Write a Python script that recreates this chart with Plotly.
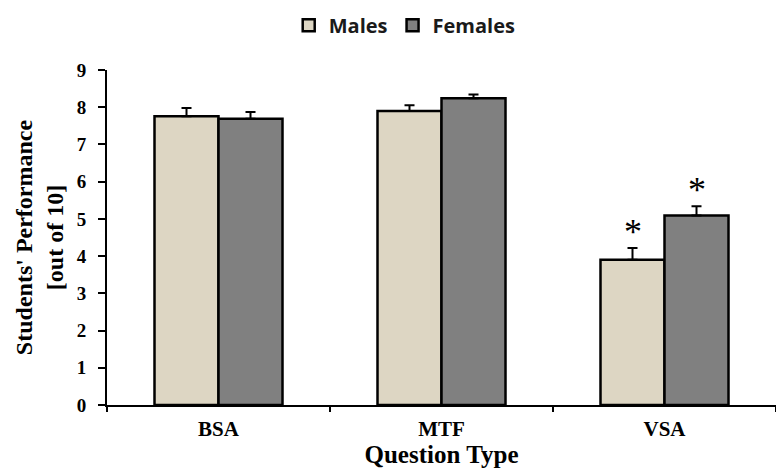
import plotly.graph_objects as go

categories = ["BSA", "MTF", "VSA"]
males = [7.76, 7.90, 3.90]
females = [7.69, 8.24, 5.09]
males_err = [0.22, 0.15, 0.32]
females_err = [0.18, 0.10, 0.25]
# significance markers per category (male, female)
males_sig = [False, False, True]
females_sig = [False, False, True]
y_ticks = list(range(0, 10))

male_color = "#DDD6C3"
female_color = "#808080"
serif = "Liberation Serif"

fig = go.Figure()
fig.add_trace(go.Bar(
    name="Males", x=categories, y=males,
    marker=dict(color=male_color, line=dict(color="black", width=2.5)),
    error_y=dict(type="data", array=males_err, symmetric=False,
                 arrayminus=[0] * len(males), color="black", thickness=2, width=5),
))
fig.add_trace(go.Bar(
    name="Females", x=categories, y=females,
    marker=dict(color=female_color, line=dict(color="black", width=2.5)),
    error_y=dict(type="data", array=females_err, symmetric=False,
                 arrayminus=[0] * len(females), color="black", thickness=2, width=5),
))

# asterisks above significant bars
for i, cat in enumerate(categories):
    if males_sig[i]:
        fig.add_annotation(x=cat, y=males[i] + males_err[i], xshift=-32, yshift=16,
                           text="*", showarrow=False,
                           font=dict(family=serif, size=36, color="black"))
    if females_sig[i]:
        fig.add_annotation(x=cat, y=females[i] + females_err[i], xshift=32, yshift=16,
                           text="*", showarrow=False,
                           font=dict(family=serif, size=36, color="black"))

fig.update_layout(
    width=776, height=475,
    margin=dict(l=107, r=0, t=70, b=70),
    plot_bgcolor="white", paper_bgcolor="white",
    barmode="group", bargap=0.426, bargroupgap=0,
    showlegend=True,
    legend=dict(orientation="h", x=0.445, xanchor="center",
                yref="container", y=0.947, yanchor="middle",
                font=dict(family="Open Sans", size=20, color="#1a1a1a", weight="bold"),
                itemwidth=30, traceorder="normal"),
    xaxis=dict(
        type="category", range=[-0.5, 2.5],
        showline=True, linecolor="black", linewidth=2,
        ticks="outside", tickson="boundaries", ticklen=5, tickwidth=2, tickcolor="black",
        ticklabelstandoff=4,
        tickfont=dict(family=serif, size=21, color="black", weight="bold"),
        title=dict(text="Question Type", standoff=5,
                   font=dict(family=serif, size=25, color="black", weight="bold")),
        showgrid=False, zeroline=False,
    ),
    yaxis=dict(
        range=[0, 9], tickvals=y_ticks,
        showline=True, linecolor="black", linewidth=2,
        ticks="outside", ticklen=7, tickwidth=2, tickcolor="black",
        ticklabelstandoff=8,
        tickfont=dict(family=serif, size=19, color="black", weight="bold"),
        title=dict(text="Students' Performance<br>[out of 10]", standoff=6,
                   font=dict(family=serif, size=24, color="black", weight="bold")),
        showgrid=False, zeroline=False,
    ),
)

fig.write_html("out.html")
